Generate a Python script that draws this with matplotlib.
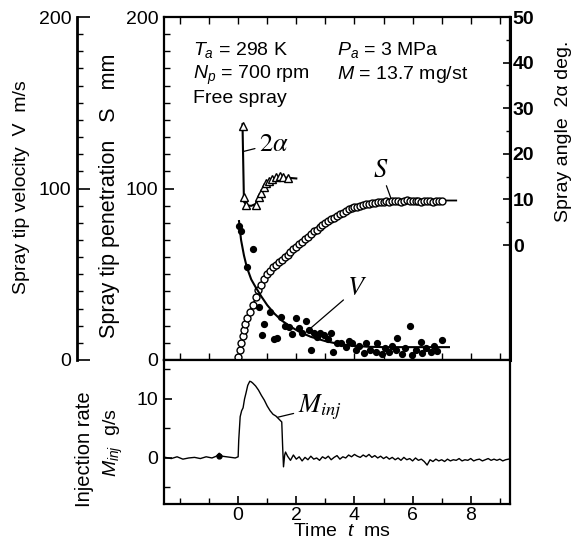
import numpy as np
import matplotlib.pyplot as plt
from matplotlib.ticker import MultipleLocator, FixedLocator

plt.rcParams['font.family'] = ['Liberation Sans', 'DejaVu Sans']
plt.rcParams['mathtext.fontset'] = 'custom'
plt.rcParams['mathtext.rm'] = 'Liberation Sans'
plt.rcParams['mathtext.it'] = 'Liberation Sans:italic'
plt.rcParams['mathtext.bf'] = 'Liberation Sans:bold'

# ---- data ----
# spray tip penetration S (open circles), mm
t_s = [0.0, 0.05, 0.1, 0.15, 0.2, 0.25, 0.3, 0.4, 0.5, 0.6,
       0.7, 0.8, 0.9, 1.0, 1.1, 1.2, 1.3, 1.4, 1.5, 1.6,
       1.7, 1.8, 1.9, 2.0, 2.1, 2.2, 2.3, 2.4, 2.5, 2.6,
       2.7, 2.8, 2.9, 3.0, 3.1, 3.2, 3.3, 3.4, 3.5, 3.6,
       3.7, 3.8, 3.9, 4.0, 4.1, 4.2, 4.3, 4.4, 4.5, 4.6,
       4.7, 4.8, 4.9, 5.0, 5.1, 5.2, 5.3, 5.4, 5.5, 5.6,
       5.7, 5.8, 5.9, 6.0, 6.1, 6.2, 6.3, 6.4, 6.5, 6.6,
       6.7, 6.8, 6.9, 7.0]
s_mm = [2, 6, 10, 14, 17.5, 21, 24.5, 28, 32, 37,
        41, 44, 47, 50, 52, 54, 55.5, 57, 58.5, 60,
        61.5, 63, 64.5, 66, 67.5, 69, 70.5, 72, 73.5, 75,
        76, 77.5, 79, 80, 81, 82, 83, 84, 85, 86,
        87, 88, 88.5, 89, 89.5, 90, 90.5, 91, 91, 91.5,
        91.5, 92, 92, 92, 92.5, 92, 93, 92.5, 93, 92,
        93, 93.5, 92.5, 93, 92.5, 93, 92, 93, 92.5, 93,
        92, 93, 92.5, 93]
t_s_fit = [0.0, 0.1, 0.2, 0.3, 0.5, 0.75, 1.0, 1.5, 2.0, 2.5,
           3.0, 3.5, 4.0, 4.5, 5.0, 5.5, 6.0, 7.0, 7.5]
s_fit = [0, 10, 17.5, 24, 32, 42, 50, 58.5, 66, 73.5,
         80, 85, 89, 91, 92, 92.5, 92.8, 93, 93]

# spray tip velocity V (filled dots), m/s
t_v = [0.03, 0.1, 0.3, 0.5, 0.72, 0.82, 0.9, 1.1, 1.24, 1.34,
       1.47, 1.6, 1.75, 1.86, 2.0, 2.1, 2.2, 2.33, 2.44, 2.5,
       2.6, 2.7, 2.8, 2.95, 3.1, 3.2, 3.25, 3.4, 3.54, 3.7,
       3.8, 3.92, 4.05, 4.15, 4.33, 4.4, 4.55, 4.74, 4.78, 4.95,
       5.05, 5.19, 5.3, 5.43, 5.46, 5.64, 5.75, 5.91, 5.98, 6.1,
       6.29, 6.32, 6.45, 6.63, 6.74, 6.85, 7.0]
v_ms = [78, 75, 54, 65, 31, 14.6, 21, 28, 12, 13,
        25, 20, 19, 15, 24.5, 18.6, 15.7, 23, 17.5, 6,
        15.7, 13.5, 16, 14.6, 12, 16, 4.7, 10, 10, 7.6,
        11, 10, 5.8, 8, 4, 10, 6, 4.7, 10, 3.5,
        7, 4.7, 8, 5.8, 12.8, 3.5, 7, 19.8, 2.9, 6,
        10.5, 4, 7, 4.7, 8.2, 5, 11.7]
t_v_fit = [0.03, 0.1, 0.2, 0.3, 0.45, 0.6, 0.8, 1.0, 1.25, 1.5,
           1.8, 2.1, 2.5, 3.0, 3.5, 4.0, 4.5, 5.0, 6.0, 7.25]
v_fit = [81, 70, 61, 54, 47, 42.5, 37, 32, 27, 23,
         19.5, 16.5, 13.5, 11, 9.2, 8.2, 7.7, 7.5, 7.5, 7.5]

# spray angle 2alpha (open triangles), deg
t_ang = [0.15, 0.2, 0.27, 0.6, 0.72, 0.8, 0.9, 0.97, 1.05, 1.15,
         1.3, 1.45, 1.55, 1.7]
ang_deg = [26.0, 10.6, 8.8, 8.8, 10.5, 11.5, 12.8, 13.6, 14.0, 14.4,
           14.9, 15.1, 14.9, 14.6]
t_ang_fit = [0.15, 0.2, 0.3, 0.45, 0.6, 0.75, 0.95, 1.15, 1.35, 1.6, 2.0]
ang_fit = [26.5, 9.5, 8.7, 8.6, 9.0, 11.0, 13.3, 14.3, 14.8, 14.8, 14.6]

# injection rate M_inj, g/s
t_inj = [-2.5, -2.3, -2.1, -1.9, -1.7, -1.5, -1.3, -1.1, -0.9, -0.75,
         -0.65, -0.55, -0.4, -0.25, -0.1, 0.0, 0.02, 0.07, 0.12, 0.17,
         0.22, 0.27, 0.33, 0.4, 0.45, 0.5, 0.6, 0.7, 0.8, 0.9,
         1.0, 1.1, 1.2, 1.3, 1.4, 1.5, 1.53, 1.56, 1.6, 1.63,
         1.7, 1.8, 1.9, 2.0, 2.1, 2.2, 2.3, 2.4, 2.5, 2.6,
         2.7, 2.8, 2.9, 3.0, 3.1, 3.2, 3.3, 3.4, 3.5, 3.6,
         3.7, 3.8, 3.9, 4.0, 4.1, 4.2, 4.3, 4.4, 4.5, 4.6,
         4.7, 4.8, 4.9, 5.0, 5.1, 5.2, 5.3, 5.4, 5.5, 5.6,
         5.7, 5.8, 5.9, 6.0, 6.1, 6.2, 6.3, 6.4, 6.5, 6.6,
         6.7, 6.8, 6.9, 7.0, 7.1, 7.2, 7.3, 7.4, 7.5, 7.6,
         7.7, 7.8, 7.9, 8.0, 8.1, 8.2, 8.3, 8.4, 8.5, 8.6,
         8.7, 8.8, 8.9, 9.0, 9.1, 9.2, 9.3]
m_inj = [0.1, -0.1, 0.2, -0.2, 0.0, 0.1, -0.1, 0.2, 0.0, 0.3,
         0.8, 0.3, 0.2, 0.1, 0.0, 0.2, 3.0, 7.0, 8.0, 8.5,
         10.0, 11.0, 12.3, 13.0, 12.9, 12.7, 12.2, 11.5, 10.6, 9.8,
         8.8, 8.0, 7.4, 7.1, 6.6, 6.1, 2.0, -1.5, 0.5, 1.0,
         0.3, -0.4, 0.5, -0.2, 0.2, -0.5, 0.1, -0.3, 0.3, -0.2,
         0.0, -0.4, 0.2, -0.1, 0.3, -0.3, 0.1, 0.4, -0.2, 0.2,
         0.0, 0.5, 0.2, 0.6, 0.3, 0.1, 0.5, 0.2, 0.6, 0.1,
         0.4, 0.0, 0.3, -0.1, 0.2, -0.2, 0.1, -0.3, 0.0, -0.4,
         0.1, -0.3, -0.1, -0.5, 0.0, -0.4, -0.2, -0.6, -1.2, -0.3,
         -0.6, -0.2, -0.5, -0.3, -0.6, -0.2, -0.5, -0.3, -0.4, -0.1,
         -0.5, -0.3, -0.4, -0.1, -0.5, -0.3, -0.2, -0.5, -0.3, -0.1,
         -0.4, -0.2, -0.4, -0.2, -0.5, -0.3, -0.2]
t_mark, m_mark = [-0.65], [0.4]

# ---- layout (pixel boxes of the original) ----
W, H = 575.0, 544.0


def fig_rect(x0, y0, x1, y1):
    return [x0 / W, 1 - y1 / H, (x1 - x0) / W, (y1 - y0) / H]


def fx(x):
    return x / W


def fy(y):
    return 1 - y / H


fig = plt.figure(figsize=(5.75, 5.44), dpi=100)
ax = fig.add_axes(fig_rect(164, 17, 510, 360))
axm = fig.add_axes(fig_rect(164, 360, 510, 504))
ax_ang = ax.twinx()
ax_vel = ax.twinx()

xlim = (-2.55, 9.35)
lw_sp = 1.6
fs = 14

# upper panel: penetration
ax.set_xlim(*xlim)
ax.set_ylim(0, 200)
ax.xaxis.set_major_locator(MultipleLocator(1))
ax.tick_params(axis='x', which='both', direction='in', top=True, bottom=True,
               labelbottom=False, length=5, width=1)
ax.yaxis.set_major_locator(FixedLocator([0, 100, 200]))
ax.yaxis.set_minor_locator(MultipleLocator(10))
ax.tick_params(axis='y', which='major', direction='in', length=7, width=1.2,
               labelsize=fs, pad=4, right=False)
ax.tick_params(axis='y', which='minor', direction='in', length=4, width=1, right=False)
for sp in ax.spines.values():
    sp.set_linewidth(lw_sp)

ax.plot(t_s_fit, s_fit, color='black', lw=1.3, zorder=2)
ax.plot(t_s, s_mm, 'o', ms=5, mfc='white', mec='black', mew=1.0, zorder=3)

# spray angle axis on the right
ax_ang.set_ylim(-25.2, 50)
ax_ang.yaxis.set_major_locator(FixedLocator([0, 10, 20, 30, 40, 50]))
ax_ang.yaxis.set_minor_locator(FixedLocator([5, 15, 25, 35, 45]))
ax_ang.tick_params(axis='y', which='major', direction='in', length=5, width=1.2,
                   labelsize=fs, pad=2)
ax_ang.tick_params(axis='y', which='minor', direction='in', length=3, width=1)
for lbl in ax_ang.get_yticklabels():
    lbl.set_fontweight('bold')
for k in ['left', 'top', 'bottom']:
    ax_ang.spines[k].set_visible(False)
ax_ang.spines['right'].set_linewidth(2.2)

ax_ang.plot(t_ang_fit, ang_fit, color='black', lw=1.5, zorder=2)
ax_ang.plot(t_ang, ang_deg, '^', ms=5.5, mfc='white', mec='black', mew=1.0, zorder=3)
ax_ang.annotate(r'$2\alpha$', xy=(0.17, 20.5), xytext=(0.72, 22.2),
                ha='left', va='center', fontsize=19, math_fontfamily='stix',
                arrowprops=dict(arrowstyle='-', lw=0.9, color='black',
                                shrinkA=1, shrinkB=0))

# velocity axis, detached to the left
ax_vel.set_ylim(0, 200)
ax_vel.spines['left'].set_visible(True)
ax_vel.spines['left'].set_position(('axes', (77 - 164) / 346.0))
ax_vel.spines['left'].set_linewidth(2.0)
for k in ['right', 'top', 'bottom']:
    ax_vel.spines[k].set_visible(False)
ax_vel.yaxis.set_ticks_position('left')
ax_vel.yaxis.set_label_position('left')
ax_vel.yaxis.set_major_locator(FixedLocator([0, 100, 200]))
ax_vel.yaxis.set_minor_locator(MultipleLocator(10))
ax_vel.tick_params(axis='y', which='major', direction='in', length=9, width=1.2,
                   labelsize=fs, pad=4)
ax_vel.tick_params(axis='y', which='minor', direction='in', length=4, width=1)

ax_vel.plot(t_v_fit, v_fit, color='black', lw=1.5, zorder=2)
ax_vel.plot(t_v, v_ms, 'o', ms=4.2, color='black', zorder=3)
ax_vel.annotate(r'$V$', xy=(2.34, 16.3), xytext=(4.1, 42),
                ha='center', va='center', fontsize=19, math_fontfamily='stix',
                arrowprops=dict(arrowstyle='-', lw=0.9, color='black',
                                shrinkA=1, shrinkB=0))
ax_vel.annotate(r'$S$', xy=(5.25, 94.5), xytext=(4.9, 111),
                ha='center', va='center', fontsize=19, math_fontfamily='stix',
                arrowprops=dict(arrowstyle='-', lw=0.9, color='black',
                                shrinkA=1, shrinkB=0))

# lower panel: injection rate
axm.set_xlim(*xlim)
axm.set_ylim(-7.8, 16.6)
axm.xaxis.set_major_locator(FixedLocator([0, 2, 4, 6, 8]))
axm.xaxis.set_minor_locator(MultipleLocator(1))
axm.tick_params(axis='x', which='major', direction='in', length=6, width=1.2,
                labelsize=fs, pad=2, top=False)
axm.tick_params(axis='x', which='minor', direction='in', length=4, width=1, top=False)
axm.yaxis.set_major_locator(FixedLocator([0, 10]))
axm.yaxis.set_minor_locator(FixedLocator([-5, 5, 15]))
axm.tick_params(axis='y', which='major', direction='in', length=6, width=1.2,
                labelsize=fs, pad=4)
axm.tick_params(axis='y', which='minor', direction='in', length=4, width=1)
for sp in axm.spines.values():
    sp.set_linewidth(lw_sp)

axm.plot(t_inj, m_inj, color='black', lw=1.0)
axm.plot(t_mark, m_mark, 'o', ms=3.5, color='black')
axm.annotate(r'$M_{inj}$', xy=(1.36, 6.9), xytext=(2.05, 8.6),
             ha='left', va='center', fontsize=19, math_fontfamily='stix',
             arrowprops=dict(arrowstyle='-', lw=0.9, color='black',
                             shrinkA=1, shrinkB=0))

# condition texts
fig.text(fx(193), fy(55), r'$T_a$ = 298 K', fontsize=fs, va='baseline')
fig.text(fx(337), fy(55), r'$P_a$ = 3 MPa', fontsize=fs, va='baseline')
fig.text(fx(193), fy(79), r'$N_p$ = 700 rpm', fontsize=fs, va='baseline')
fig.text(fx(337), fy(79), r'$M$ = 13.7 mg/st', fontsize=fs, va='baseline')
fig.text(fx(193), fy(103), 'Free spray', fontsize=fs, va='baseline')

# axis titles
fig.text(fx(22), fy(187), 'Spray tip velocity  V  m/s', rotation=90,
         ha='center', va='center', fontsize=fs)
fig.text(fx(110), fy(196), 'Spray tip penetration   S   mm', rotation=90,
         ha='center', va='center', fontsize=15.5)
fig.text(fx(563), fy(131), 'Spray angle  2α deg.', rotation=90,
         ha='center', va='center', fontsize=fs)
fig.text(fx(84), fy(449), 'Injection rate', rotation=90,
         ha='center', va='center', fontsize=fs + 0.5)
fig.text(fx(113), fy(443), r'$M_{inj}$  g/s', rotation=90,
         ha='center', va='center', fontsize=fs)
fig.text(fx(342), fy(531), r'Time  $t$  ms', ha='center', va='center', fontsize=fs)

fig.savefig('out.png', dpi=100)
